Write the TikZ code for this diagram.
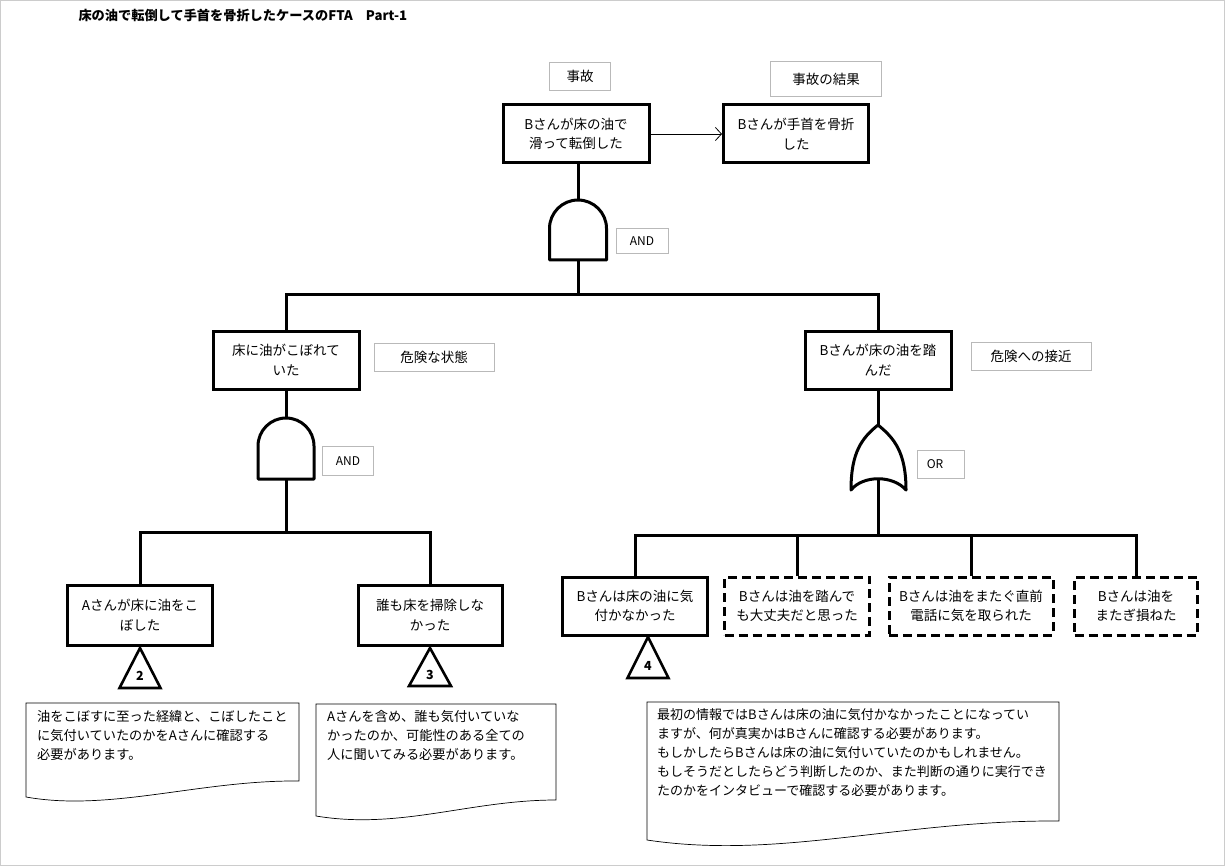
\documentclass[tikz,border=0pt]{standalone}
\usepackage{fontspec}
\setmainfont{Noto Sans CJK JP}
\usetikzlibrary{arrows.meta, positioning, calc}

\begin{document}
\begin{tikzpicture}[x=1pt,y=-1pt,
  event/.style={draw, line width=3pt, minimum width=146pt, minimum height=58pt, align=center, inner sep=2pt, font=\fontsize{13.5}{19.5}\selectfont},
  devent/.style={event, dash pattern=on 9pt off 5pt},
  tag/.style={draw=gray!55, line width=0.6pt, minimum height=28pt, font=\fontsize{13.5}{15}\selectfont},
  gatetag/.style={tag, font=\fontsize{12}{13}\selectfont},
  link/.style={line width=3pt},
  gate/.style={line width=3pt, fill=white, line join=round},
  tri/.style={line width=2.6pt, line join=miter},
  trinum/.style={font=\fontsize{12.5}{14}\selectfont\bfseries, inner sep=0pt},
  note/.style={line width=0.7pt},
  notetext/.style={anchor=north west, align=left, inner sep=0pt, font=\fontsize{13.2}{19}\selectfont}]
\useasboundingbox (0,0) rectangle (1225,866);
\draw[gray!40] (0.5,0.5) rectangle (1224.5,865.5);
\node[anchor=west, font=\fontsize{13.2}{16}\selectfont\bfseries] (title) at (75,15) {床の油で転倒して手首を骨折したケースのFTA\quad Part-1};

% 頂上事象
\node[tag, minimum width=61pt] (lbl_acc) at (580,76) {事故};
\node[tag, minimum width=111pt, minimum height=35pt] (lbl_res) at (826,79) {事故の結果};
\node[event] (ev_top) at (576,134) {Bさんが床の油で\\滑って転倒した};
\node[event, minimum width=145pt] (ev_res) at (796,134) {Bさんが手首を骨折\\した};
\draw[line width=0.8pt, -{Straight Barb[length=6pt,width=13pt]}] (ev_top) -- (ev_res);

% ANDゲート (1)
\coordinate (g1_in) at (578,200);
\coordinate (g1_out) at (578,260);
\draw[gate] (549.5,260) -- (549.5,228.5) arc[start angle=180, end angle=360, radius=28.5] -- (606.5,260) -- cycle;
\node[gatetag, minimum width=52pt, minimum height=25pt] (and1) at (642,241) {AND};
\draw[link] (g1_in |- ev_top.south) -- (g1_in);
\coordinate (bus1) at (578,295);
\draw[link] (g1_out) -- (bus1);

% 第2段
\node[event] (ev_oil) at (286,360) {床に油がこぼれて\\いた};
\node[tag, minimum width=120pt] (lbl_dng) at (434,357) {危険な状態\hspace{38pt}};
\node[event] (ev_step) at (878,360) {Bさんが床の油を踏\\んだ};
\node[tag, minimum width=120pt] (lbl_app) at (1031,356) {危険への接近\hspace{24pt}};
\draw[link] (ev_oil.north) |- (bus1) -| (ev_step.north);

% ANDゲート (2)
\coordinate (g2_in) at (286,418);
\coordinate (g2_out) at (286,479);
\draw[gate] (258,479) -- (258,446) arc[start angle=180, end angle=360, radius=28] -- (314,479) -- cycle;
\node[gatetag, minimum width=51pt, minimum height=29pt] (and2) at (348,461) {AND};
\draw[link] (ev_oil.south) -- (g2_in);
\coordinate (bus2) at (286,532);
\draw[link] (g2_out) -- (bus2);

\node[event, minimum width=145pt, minimum height=60pt] (ev_spill) at (140,615) {Aさんが床に油をこ\\ぼした};
\node[event, minimum width=144pt, minimum height=60pt] (ev_clean) at (430,615) {誰も床を掃除しな\\かった};
\draw[link] (ev_spill.north) |- (bus2) -| (ev_clean.north);

\draw[tri] (140,648) -- (160.5,688) -- (119.5,688) -- cycle;
\node[trinum] (t2) at (140,676) {2};
\draw[tri] (430,648) -- (451,686) -- (409,686) -- cycle;
\node[trinum] (t3) at (430,675) {3};

% ORゲート
\coordinate (g3_in) at (878,425);
\coordinate (g3_out) at (878,478);
\draw[gate] (851,490) .. controls (851,452) and (862,438) .. (878,425) .. controls (894,438) and (906,452) .. (906,490) .. controls (893,475) and (863,475) .. cycle;
\node[gatetag, minimum width=47pt] (or1) at (941,464) {\hspace{-12pt}OR};
\draw[link] (ev_step.south) -- (g3_in);
\coordinate (bus3) at (878,535);
\draw[link] (g3_out) -- (bus3);

\node[event, minimum width=145pt] (ev_ntc) at (635,606) {Bさんは床の油に気\\付かなかった};
\node[devent, minimum width=145pt] (ev_ok) at (797,606) {Bさんは油を踏んで\\も大丈夫だと思った};
\node[devent, minimum width=164pt] (ev_tel) at (971,606) {Bさんは油をまたぐ直前\\電話に気を取られた};
\node[devent, minimum width=123pt] (ev_miss) at (1136,606) {Bさんは油を\\またぎ損ねた};
\draw[link] (ev_ntc.north) |- (bus3) -| (ev_miss.north);
\draw[link] (ev_ok.north) -- (ev_ok.north |- bus3);
\draw[link] (ev_tel.north) -- (ev_tel.north |- bus3);

\draw[tri] (648,637) -- (668.5,678) -- (627.5,678) -- cycle;
\node[trinum] (t4) at (648,666) {4};

% コメント
\draw[note] (26,797) -- (26,703) -- (299,703) -- (299,781) .. controls (200,780) and (110,812) .. cycle;
\node[notetext] (nt1) at (37,710) {油をこぼすに至った経緯と、こぼしたこと\\に気付いていたのかをAさんに確認する\\必要があります。};
\draw[note] (316,816) -- (316,704) -- (556,704) -- (556,800) .. controls (470,800) and (400,830) .. cycle;
\node[notetext] (nt2) at (327,710) {Aさんを含め、誰も気付いていな\\かったのか、可能性のある全ての\\人に聞いてみる必要があります。};
\draw[note] (647,840) -- (647,702) -- (1059,702) -- (1059,821) .. controls (900,820) and (780,860) .. cycle;
\node[notetext, font=\fontsize{13}{19}\selectfont] (nt3) at (657,708) {最初の情報ではBさんは床の油に気付かなかったことになってい\\ますが、何が真実かはBさんに確認する必要があります。\\もしかしたらBさんは床の油に気付いていたのかもしれません。\\もしそうだとしたらどう判断したのか、また判断の通りに実行でき\\たのかをインタビューで確認する必要があります。};
\end{tikzpicture}
\end{document}
